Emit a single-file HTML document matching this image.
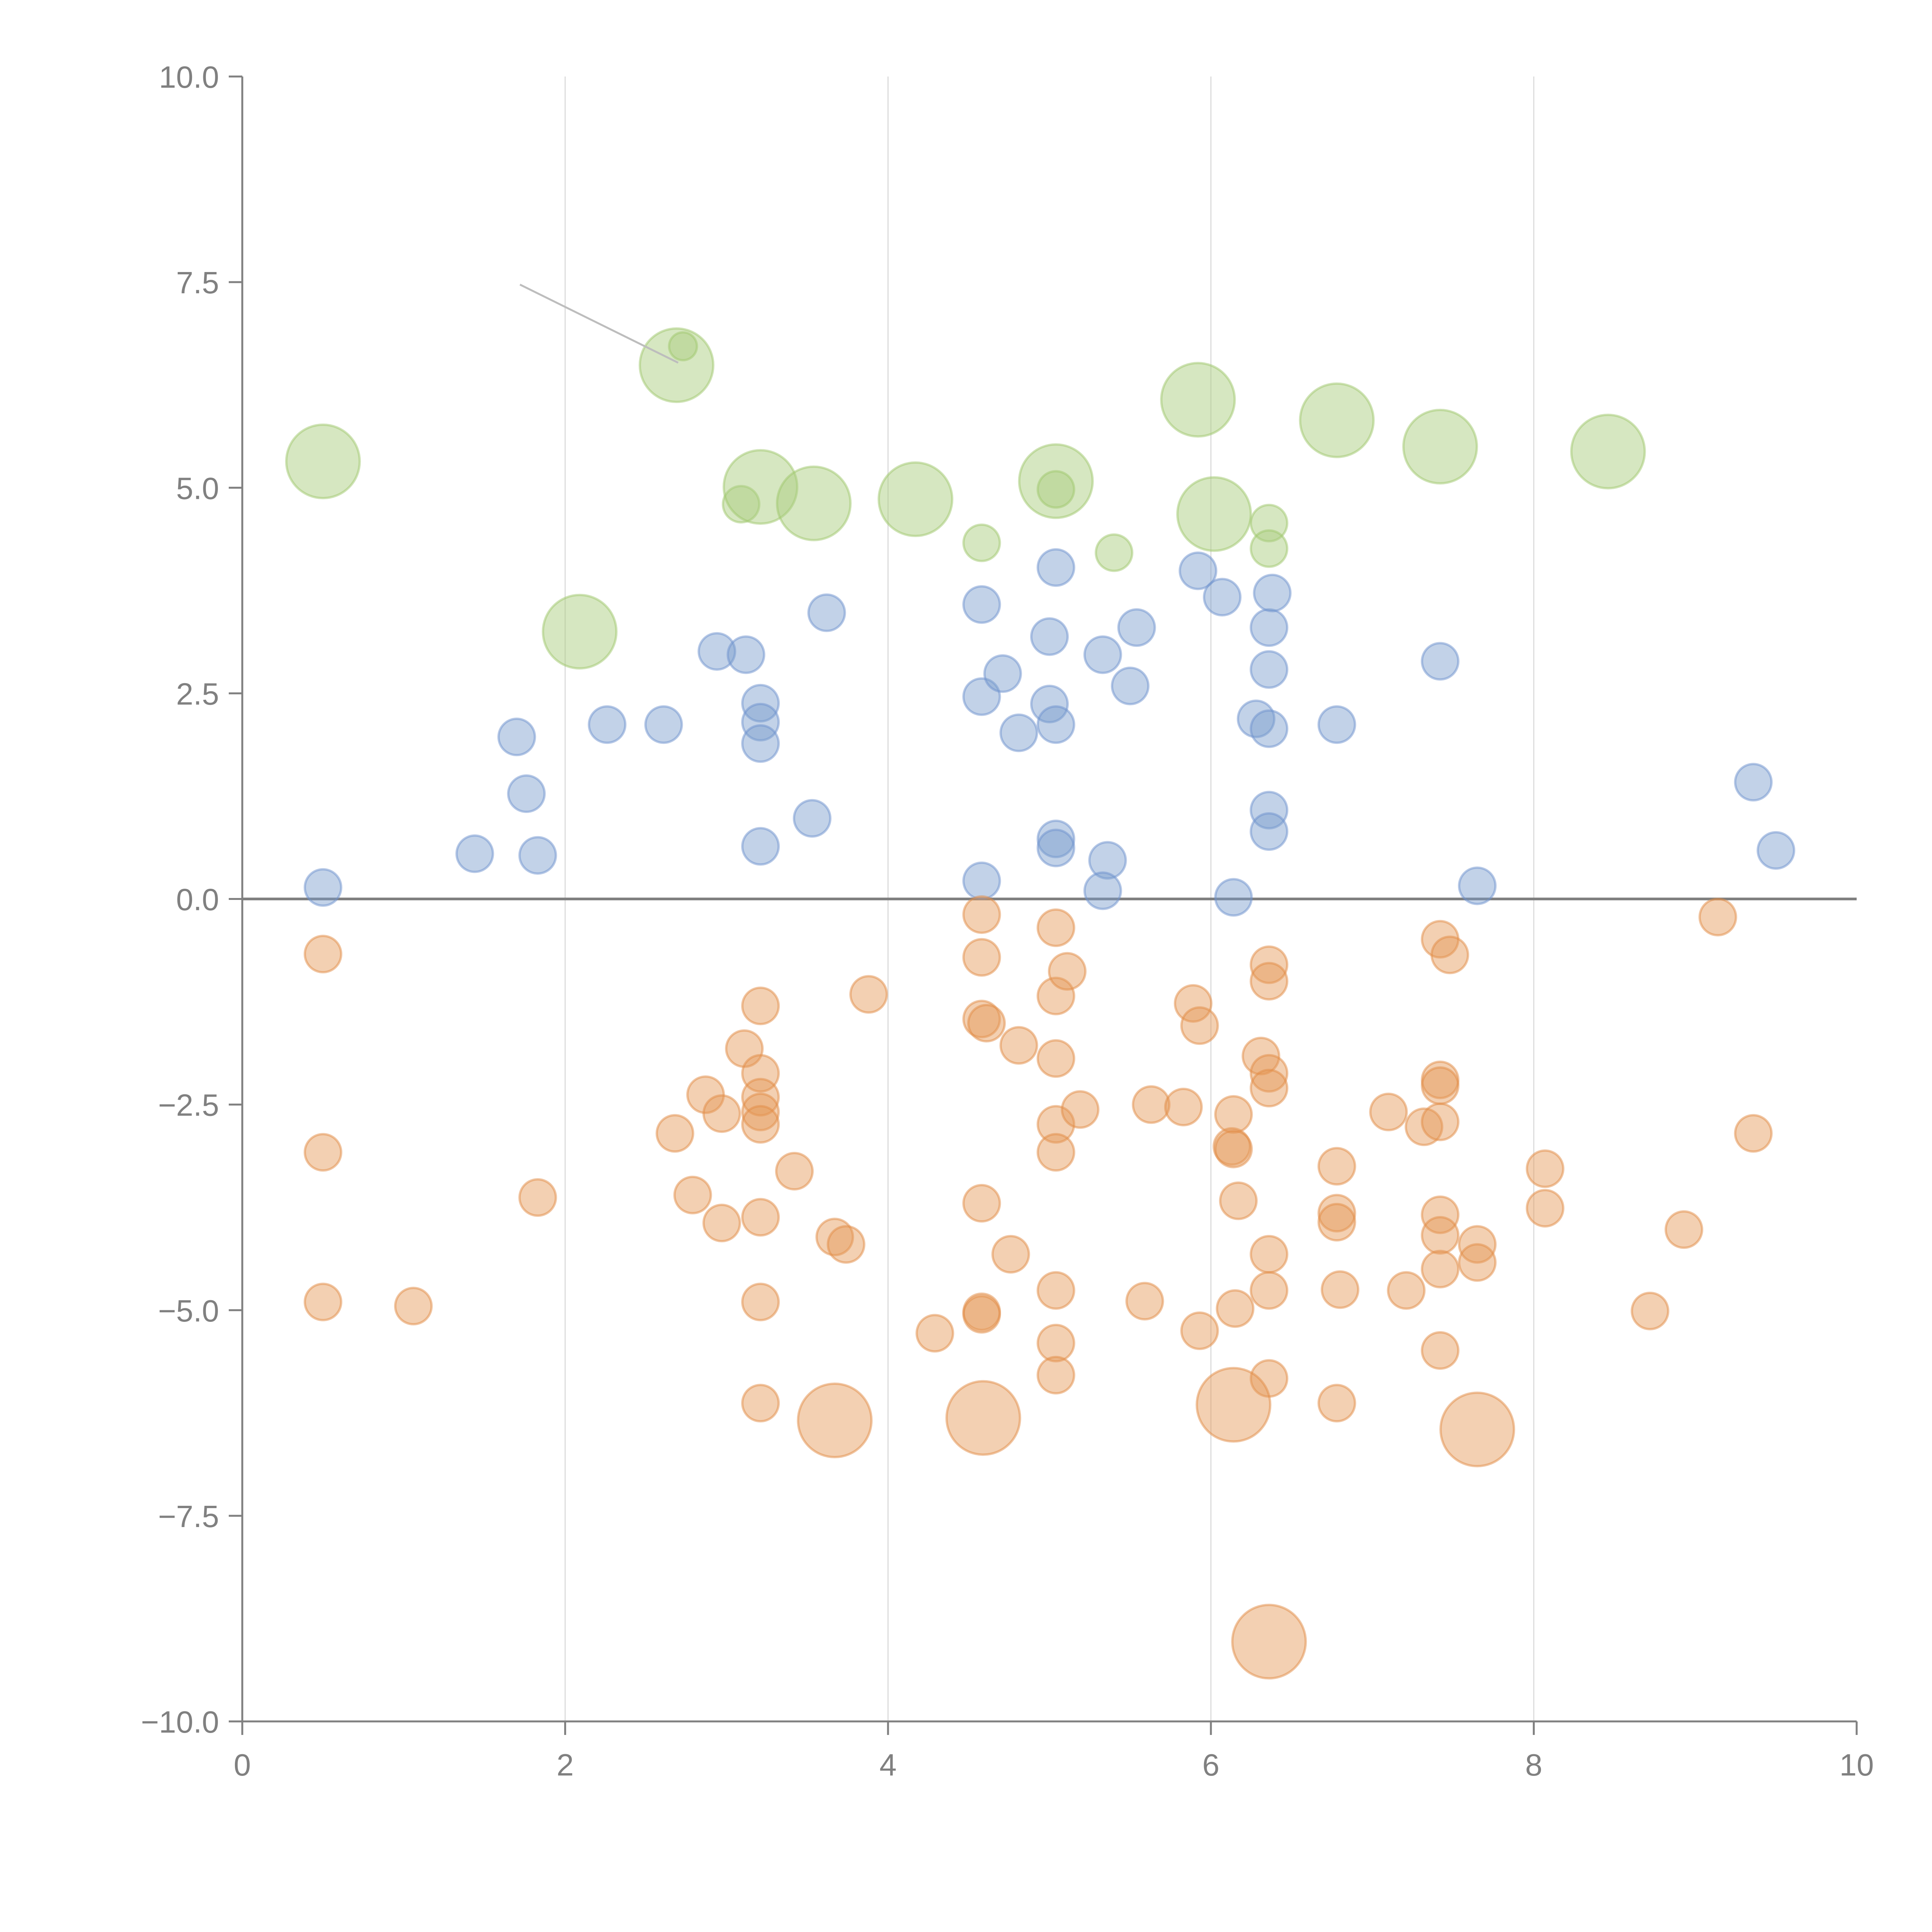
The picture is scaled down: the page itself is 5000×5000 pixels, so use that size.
<!DOCTYPE html>
<html><head><meta charset="utf-8">
<style>
html,body{margin:0;padding:0;background:#fff;}
svg{display:block;}
text{font-family:"Liberation Sans",Arial,sans-serif;fill:#808080;}
</style></head>
<body>
<svg id="chart" width="5000" height="5000" viewBox="0 0 5000 5000" xmlns="http://www.w3.org/2000/svg">
<g id="grid"></g>
<g id="axes"></g>
<g id="marks"></g>
</svg>
<script>
const xTicks = [0, 2, 4, 6, 8, 10];
const yTicks = [-10, -7.5, -5, -2.5, 0, 2.5, 5, 7.5, 10];
const yTickLabels = ["\u221210.0", "\u22127.5", "\u22125.0", "\u22122.5", "0.0", "2.5", "5.0", "7.5", "10.0"];
const xTickLabels = ["0", "2", "4", "6", "8", "10"];

const blueX = [0.50,1.44,1.83,1.70,1.76,2.26,2.61,2.94,3.12,3.21,3.21,3.21,3.21,3.53,3.62,4.58,4.58,4.58,4.71,4.81,5.00,5.00,5.04,5.04,5.04,5.04,5.33,5.36,5.33,5.54,5.50,5.92,6.07,6.14,6.28,6.36,6.36,6.36,6.38,6.36,6.36,6.78,7.42,7.65,9.36,9.50];
const blueY = [0.14,0.55,0.53,1.97,1.28,2.12,2.12,3.01,2.97,2.38,2.15,1.89,0.64,0.98,3.48,3.58,2.46,0.22,2.74,2.02,3.19,2.37,4.03,2.12,0.73,0.62,2.97,0.47,0.10,3.30,2.59,3.99,3.67,0.02,2.19,2.07,2.79,3.30,3.72,1.08,0.82,2.12,2.89,0.16,1.42,0.59];

const greenX = [0.50,2.69,2.73,3.09,3.21,3.54,4.17,4.58,5.04,5.04,5.40,5.92,6.02,6.36,6.36,6.78,7.42,8.46,2.09];
const greenY = [5.32,6.49,6.72,4.80,5.01,4.81,4.86,4.33,5.08,4.98,4.21,6.07,4.68,4.57,4.26,5.82,5.50,5.44,3.25];
const greenSize = [2,2,0.7,1,2,2,2,1,2,1,1,2,2,1,1,2,2,2,2];

const orangeX = [0.50,0.50,0.50,1.06,1.83,2.68,2.79,2.87,2.97,2.97,3.11,3.21,3.21,3.21,3.21,3.21,3.21,3.21,3.21,3.42,3.67,3.74,3.88,4.29,4.58,4.58,4.58,4.61,4.58,4.58,4.58,4.76,4.81,5.04,5.04,5.04,5.04,5.04,5.04,5.04,5.04,5.11,5.19,5.59,5.63,5.83,5.89,5.93,5.93,6.14,6.13,6.14,6.17,6.15,6.31,6.36,6.36,6.36,6.36,6.36,6.36,6.36,6.78,6.78,6.78,6.80,6.78,7.10,7.21,7.32,7.42,7.48,7.42,7.42,7.42,7.42,7.42,7.42,7.42,7.65,7.65,8.07,8.07,8.72,8.93,9.14,9.36,
 3.67,4.59,6.14,7.65,6.36];
const orangeY = [-0.67,-3.08,-4.90,-4.95,-3.63,-2.85,-3.60,-2.38,-2.61,-3.94,-1.82,-1.30,-2.12,-2.41,-2.59,-2.74,-3.87,-4.90,-6.13,-3.31,-4.11,-4.20,-1.16,-5.28,-0.19,-0.71,-1.46,-1.51,-3.70,-5.02,-5.05,-4.32,-1.78,-0.35,-1.18,-1.94,-2.74,-3.08,-4.76,-5.40,-5.79,-0.88,-2.56,-4.89,-2.50,-2.53,-1.27,-1.54,-5.25,-2.62,-3.01,-3.04,-3.67,-4.98,-1.91,-2.12,-2.30,-0.80,-1.00,-4.32,-4.76,-5.83,-3.25,-3.82,-3.93,-4.75,-6.13,-2.59,-4.76,-2.77,-0.49,-0.68,-2.20,-2.27,-2.71,-3.84,-4.09,-4.50,-5.49,-4.20,-4.42,-3.28,-3.76,-5.01,-4.02,-0.22,-2.85,
 -6.34,-6.31,-6.15,-6.45,-9.03];
const orangeSize = orangeX.map((_, i) => i >= orangeX.length - 5 ? 2 : 1);

const X0 = 627, X1 = 4805, Y0 = 4455, Y1 = 198;
function sx(v) { return X0 + (v - 0) / 10 * (X1 - X0); }
function sy(v) { return Y0 - (v + 10) / 20 * (Y0 - Y1); }
function sr(s) { return s >= 2 ? 95 : (s >= 1 ? 47 : 36); }

const NS = "http://www.w3.org/2000/svg";
function mk(tag, attrs, parent) {
  const e = document.createElementNS(NS, tag);
  for (const k in attrs) e.setAttribute(k, attrs[k]);
  parent.appendChild(e);
  return e;
}
const grid = document.getElementById('grid');
const axes = document.getElementById('axes');
const marks = document.getElementById('marks');

xTicks.forEach((t, i) => {
  if (t > 0 && t < 10) {
    const g = mk('line', {x1: sx(t), x2: sx(t), y1: Y1, y2: Y0, stroke: '#dcdcdc', 'stroke-width': 3}, grid);
    
    
  }
  const tk = mk('line', {x1: sx(t), x2: sx(t), y1: Y0, y2: Y0 + 35, stroke: '#808080', 'stroke-width': 5}, axes);
  
  
  const tx = mk('text', {x: sx(t), y: Y0 + 140, 'font-size': 80, 'text-anchor': 'middle'}, axes);
  tx.textContent = xTickLabels[i];
  
  
});
yTicks.forEach((t, i) => {
  const tk = mk('line', {x1: X0 - 35, x2: X0, y1: sy(t), y2: sy(t), stroke: '#808080', 'stroke-width': 5}, axes);
  
  
  const tx = mk('text', {x: X0 - 60, y: sy(t) + 29, 'font-size': 80, 'text-anchor': 'end'}, axes);
  tx.textContent = yTickLabels[i];
  
  
});
const ya = mk('line', {x1: X0, x2: X0, y1: Y1, y2: Y0, stroke: '#808080', 'stroke-width': 5}, axes);


const xa = mk('line', {x1: X0, x2: X1, y1: Y0, y2: Y0, stroke: '#808080', 'stroke-width': 5}, axes);


const zl = mk('line', {x1: X0, x2: X1, y1: sy(0), y2: sy(0), stroke: '#808080', 'stroke-width': 7}, axes);



function series(xs, ys, sizes, fill, stroke, name) {
  xs.forEach((x, i) => {
    const c = mk('circle', {cx: sx(x), cy: sy(ys[i]), r: sr(sizes ? sizes[i] : 1), fill: fill, stroke: stroke, 'stroke-width': 6}, marks);
    
    
  });
}
series(blueX, blueY, null, 'rgba(120,155,205,0.45)', 'rgba(110,145,205,0.5)', 'blue-bubble');
series(orangeX, orangeY, orangeSize, 'rgba(228,150,85,0.45)', 'rgba(225,140,70,0.5)', 'orange-bubble');
series(greenX, greenY, greenSize, 'rgba(170,205,125,0.48)', 'rgba(160,200,110,0.5)', 'green-bubble');

const ld = mk('line', {x1: sx(1.72), y1: sy(7.47), x2: sx(2.70), y2: sy(6.52), stroke: '#bdbdbd', 'stroke-width': 5}, marks);


</script>
</body></html>
